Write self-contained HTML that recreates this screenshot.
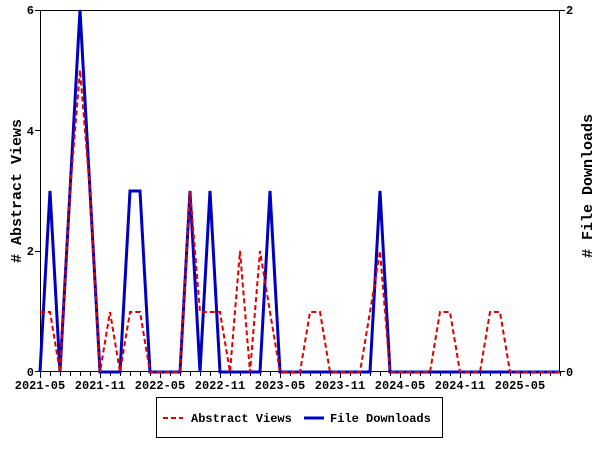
<!DOCTYPE html>
<html><head><style>body{margin:0;background:#fff}svg{display:block}text{font-family:"Liberation Mono",monospace;font-weight:bold;font-size:12px}</style></head><body>
<svg width="600" height="450" viewBox="0 0 600 450">
<rect width="600" height="450" fill="#fff"/>
<rect x="40.5" y="10.5" width="519" height="361" fill="none" stroke="#000"/>
<path stroke="#000" fill="none" d="M40.5 372v6M50.5 372v4M60.5 372v4M70.5 372v4M80.5 372v4M90.5 372v4M100.5 372v6M110.5 372v4M120.5 372v4M130.5 372v4M140.5 372v4M150.5 372v4M160.5 372v6M170.5 372v4M180.5 372v4M190.5 372v4M200.5 372v4M210.5 372v4M220.5 372v6M230.5 372v4M240.5 372v4M250.5 372v4M260.5 372v4M270.5 372v4M280.5 372v6M290.5 372v4M300.5 372v4M310.5 372v4M320.5 372v4M330.5 372v4M340.5 372v6M350.5 372v4M360.5 372v4M370.5 372v4M380.5 372v4M390.5 372v4M400.5 372v6M410.5 372v4M420.5 372v4M430.5 372v4M440.5 372v4M450.5 372v4M460.5 372v6M470.5 372v4M480.5 372v4M490.5 372v4M500.5 372v4M510.5 372v4M520.5 372v6M530.5 372v4M540.5 372v4M550.5 372v4M560.5 372v4M35 10.5h5M35 130.5h5M35 251.5h5M35 371.5h5M560 10.5h5M560 371.5h5"/>
<g>
<text x="34" y="14" text-anchor="end">6</text>
<text x="34" y="135" text-anchor="end">4</text>
<text x="34" y="255" text-anchor="end">2</text>
<text x="34" y="376" text-anchor="end">0</text>
<text x="566" y="14">2</text>
<text x="566" y="376">0</text>
<text x="40" y="389" text-anchor="middle">2021-05</text>
<text x="100" y="389" text-anchor="middle">2021-11</text>
<text x="160" y="389" text-anchor="middle">2022-05</text>
<text x="220" y="389" text-anchor="middle">2022-11</text>
<text x="280" y="389" text-anchor="middle">2023-05</text>
<text x="340" y="389" text-anchor="middle">2023-11</text>
<text x="400" y="389" text-anchor="middle">2024-05</text>
<text x="460" y="389" text-anchor="middle">2024-11</text>
<text x="520" y="389" text-anchor="middle">2025-05</text>
<text transform="translate(21,191) rotate(-90)" text-anchor="middle" style="font-size:15px">#  Abstract Views</text>
<text transform="translate(592,186) rotate(-90)" text-anchor="middle" style="font-size:15px">#  File Downloads</text>
</g>
<polyline fill="none" stroke="#0000c0" stroke-width="3" points="40,372 50,191 60,372 70,191 80,10 90,191 100,372 120,372 130,191 140,191 150,372 180,372 190,191 200,372 210,191 220,372 260,372 270,191 280,372 370,372 380,191 390,372 560,372"/>
<polyline fill="none" stroke="#dd0000" stroke-width="2" stroke-dasharray="5,3" points="40,312 50,312 60,372 70,191 80,70 90,191 100,372 110,312 120,372 130,312 140,312 150,372 180,372 190,191 200,312 210,312 220,312 230,372 240,251 250,372 260,251 270,312 280,372 300,372 310,312 320,312 330,372 360,372 370,312 380,251 390,372 430,372 440,312 450,312 460,372 480,372 490,312 500,312 510,372 560,372"/>
<rect x="156.5" y="397.5" width="286" height="40" fill="none" stroke="#000"/>
<line x1="163" y1="418" x2="183" y2="418" stroke="#dd0000" stroke-width="2" stroke-dasharray="5,3"/>
<text x="191" y="422">Abstract Views</text>
<line x1="304" y1="418" x2="324" y2="418" stroke="#0000c0" stroke-width="3"/>
<text x="330" y="422">File Downloads</text>
</svg>
</body></html>
